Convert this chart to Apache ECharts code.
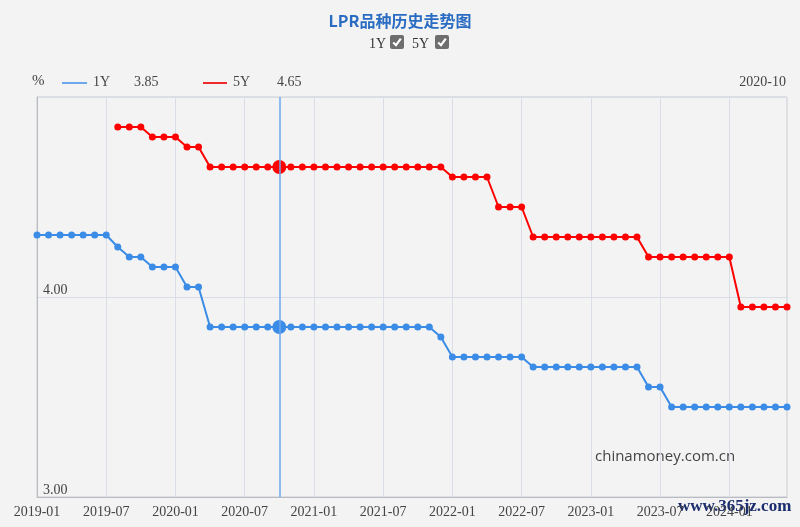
<!DOCTYPE html>
<html>
<head>
<meta charset="utf-8">
<title>LPR品种历史走势图</title>
<script src="https://cdn.jsdelivr.net/npm/echarts@6/dist/echarts.min.js"></script>
<style>
  html, body { margin: 0; padding: 0; background: #f3f3f3; }
  #main { width: 800px; height: 527px; }
</style>
</head>
<body>
<div id="main"></div>
<script>
// 月份 2019-01 ~ 2024-06
var months = [
  '2019-01','2019-02','2019-03','2019-04','2019-05','2019-06','2019-07','2019-08','2019-09','2019-10','2019-11','2019-12',
  '2020-01','2020-02','2020-03','2020-04','2020-05','2020-06','2020-07','2020-08','2020-09','2020-10','2020-11','2020-12',
  '2021-01','2021-02','2021-03','2021-04','2021-05','2021-06','2021-07','2021-08','2021-09','2021-10','2021-11','2021-12',
  '2022-01','2022-02','2022-03','2022-04','2022-05','2022-06','2022-07','2022-08','2022-09','2022-10','2022-11','2022-12',
  '2023-01','2023-02','2023-03','2023-04','2023-05','2023-06','2023-07','2023-08','2023-09','2023-10','2023-11','2023-12',
  '2024-01','2024-02','2024-03','2024-04','2024-05','2024-06'
];
var lpr1Y = [
  4.31,4.31,4.31,4.31,4.31,4.31,4.31,4.25,4.20,4.20,4.15,4.15,
  4.15,4.05,4.05,3.85,3.85,3.85,3.85,3.85,3.85,3.85,3.85,3.85,
  3.85,3.85,3.85,3.85,3.85,3.85,3.85,3.85,3.85,3.85,3.85,3.80,
  3.70,3.70,3.70,3.70,3.70,3.70,3.70,3.65,3.65,3.65,3.65,3.65,
  3.65,3.65,3.65,3.65,3.65,3.55,3.55,3.45,3.45,3.45,3.45,3.45,
  3.45,3.45,3.45,3.45,3.45,3.45
];
var lpr5Y = [
  null,null,null,null,null,null,null,4.85,4.85,4.85,4.80,4.80,
  4.80,4.75,4.75,4.65,4.65,4.65,4.65,4.65,4.65,4.65,4.65,4.65,
  4.65,4.65,4.65,4.65,4.65,4.65,4.65,4.65,4.65,4.65,4.65,4.65,
  4.60,4.60,4.60,4.60,4.45,4.45,4.45,4.30,4.30,4.30,4.30,4.30,
  4.30,4.30,4.30,4.30,4.30,4.20,4.20,4.20,4.20,4.20,4.20,4.20,
  4.20,3.95,3.95,3.95,3.95,3.95
];
var yTicks = [3, 4, 5];
var focusMonth = '2020-10';

var focus = months.indexOf(focusMonth);
var c1 = '#3b8ce6', c5 = '#ff0000';
var serif = '"Liberation Serif", "DejaVu Serif", serif';

function mark(arr) {
  return arr.map(function (v, i) {
    return i === focus ? { value: v, symbolSize: 14 } : v;
  });
}

function checkbox(x, y) {
  return {
    type: 'group', left: x, top: y,
    children: [
      { type: 'rect', shape: { x: 0, y: 0, width: 14, height: 14, r: 2 }, style: { fill: '#6e6e6e' } },
      { type: 'polyline', shape: { points: [[3.2, 7.5], [6, 10.2], [10.8, 3.6]] },
        style: { stroke: '#fff', lineWidth: 2.2, fill: null } }
    ]
  };
}

var chart = echarts.init(document.getElementById('main'));
chart.setOption({
  animation: false,
  backgroundColor: '#f3f3f3',
  title: {
    text: 'LPR品种历史走势图',
    left: 'center', top: 8,
    textStyle: { color: '#2a6cc2', fontSize: 16, fontWeight: 'bold', fontFamily: '"Noto Sans CJK SC", sans-serif' }
  },
  grid: { left: 37, right: 13, top: 97, bottom: 30, show: true, borderColor: '#c9cbd0', borderWidth: 1, backgroundColor: '#f3f3f3' },
  xAxis: {
    type: 'category',
    data: months,
    boundaryGap: false,
    axisLine: { lineStyle: { color: '#b8bbc2' } },
    axisTick: { show: false },
    axisLabel: { interval: 5, color: '#444', fontSize: 14, fontFamily: serif, margin: 8 },
    splitLine: { show: true, interval: 5, lineStyle: { color: '#d9dde6' } }
  },
  yAxis: {
    type: 'value',
    min: yTicks[0], max: yTicks[yTicks.length - 1], interval: 1,
    axisLine: { show: true, lineStyle: { color: '#b8bbc2' } },
    axisTick: { show: false },
    axisLabel: {
      inside: true, margin: 6, verticalAlign: 'bottom', color: '#444', fontSize: 14, fontFamily: serif,
      formatter: function (v) { return v === yTicks[yTicks.length - 1] ? '' : v.toFixed(2); }
    },
    splitLine: { lineStyle: { color: '#d9dde6' } }
  },
  series: [
    {
      name: '1Y', type: 'line', data: mark(lpr1Y),
      symbol: 'circle', symbolSize: 7,
      itemStyle: { color: c1 }, lineStyle: { color: c1, width: 2 },
      markLine: {
        silent: true, symbol: 'none', label: { show: false },
        lineStyle: { color: '#6ea7ee', width: 1.5, type: 'solid' },
        data: [{ xAxis: focusMonth }]
      },
      z: 3
    },
    {
      name: '5Y', type: 'line', data: mark(lpr5Y),
      symbol: 'circle', symbolSize: 7, connectNulls: false,
      itemStyle: { color: c5 }, lineStyle: { color: c5, width: 2 },
      z: 3
    }
  ],
  graphic: [
    { type: 'text', left: 369, top: 37, style: { text: '1Y', fontSize: 14, fontFamily: serif, fill: '#333' } },
    checkbox(390, 35),
    { type: 'text', left: 412, top: 37, style: { text: '5Y', fontSize: 14, fontFamily: serif, fill: '#333' } },
    checkbox(435, 35),
    { type: 'text', left: 32, top: 74, style: { text: '%', fontSize: 15, fontFamily: serif, fill: '#444' } },
    { type: 'line', shape: { x1: 62, y1: 83, x2: 87, y2: 83 }, style: { stroke: '#6ea7ee', lineWidth: 2 } },
    { type: 'text', left: 93, top: 75, style: { text: '1Y', fontSize: 14, fontFamily: serif, fill: '#444' } },
    { type: 'text', left: 134, top: 75, style: { text: lpr1Y[focus].toFixed(2), fontSize: 14, fontFamily: serif, fill: '#444' } },
    { type: 'line', shape: { x1: 203, y1: 83, x2: 227, y2: 83 }, style: { stroke: '#f02a2a', lineWidth: 2 } },
    { type: 'text', left: 233, top: 75, style: { text: '5Y', fontSize: 14, fontFamily: serif, fill: '#444' } },
    { type: 'text', left: 277, top: 75, style: { text: lpr5Y[focus].toFixed(2), fontSize: 14, fontFamily: serif, fill: '#444' } },
    { type: 'text', right: 14, top: 75, style: { text: focusMonth, fontSize: 14, fontFamily: serif, fill: '#444' } },
    { type: 'text', left: 595, top: 449, style: { text: 'chinamoney.com.cn', fontSize: 15, fontFamily: '"Open Sans", "Noto Sans", sans-serif', fill: '#444' } },
    { type: 'text', left: 678, top: 498, style: { text: 'www.365jz.com', fontSize: 17, fontWeight: 'bold', fontFamily: serif, fill: '#1b2d6e' } }
  ]
});
</script>
</body>
</html>
